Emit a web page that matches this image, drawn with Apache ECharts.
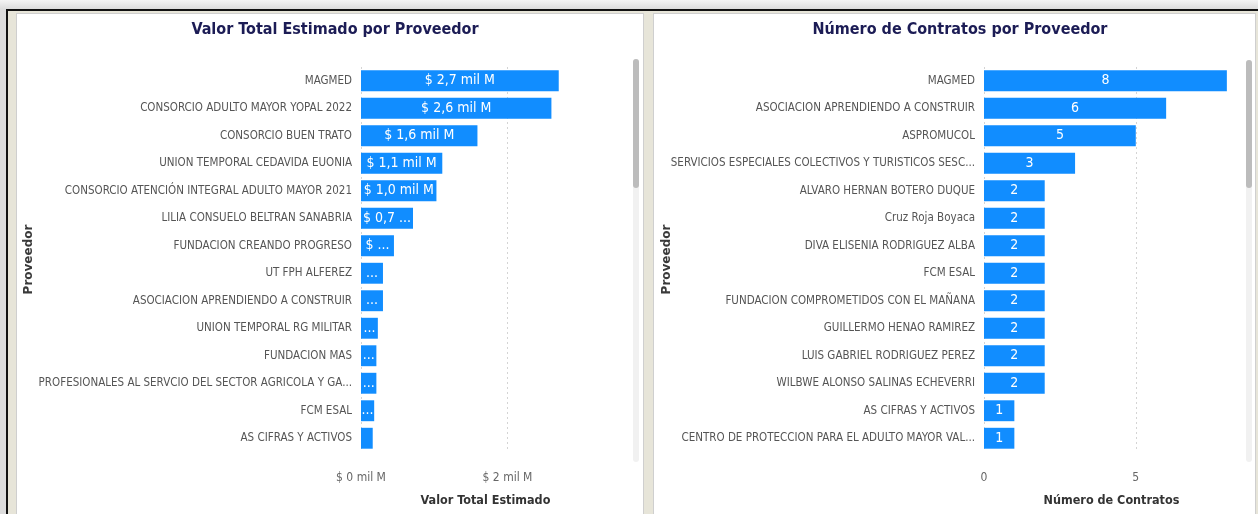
<!DOCTYPE html>
<html>
<head>
<meta charset="utf-8">
<script src="https://cdn.jsdelivr.net/npm/echarts@6/dist/echarts.min.js"></script>
<style>
  html, body { margin: 0; padding: 0; }
  body { width: 1258px; height: 514px; overflow: hidden; position: relative;
         background: linear-gradient(#f4f4f4, #dcdcdc 9px); }
  .frame { position: absolute; left: 6px; top: 9px; right: 0; bottom: 0;
           background: #e7e5d9; border-top: 2px solid #111; border-left: 2px solid #111; }
  .panel { position: absolute; background: #fff; border: 1px solid #cfcfcf; }
  .track { position: absolute; width: 6px; background: #f1f1f1; border-radius: 3px; }
  .thumb { position: absolute; width: 6px; background: #bcbcbc; border-radius: 3px; }
  #chart { position: absolute; left: 0; top: 0; width: 1258px; height: 514px; }
</style>
</head>
<body>
<div class="frame"></div>
<div class="panel" style="left:16px; top:13px; width:626px; height:510px;"></div>
<div class="panel" style="left:653px; top:13px; width:601px; height:510px;"></div>
<div class="track" style="left:633px; top:59px; height:403px;"></div>
<div class="thumb" style="left:633px; top:59px; height:129px;"></div>
<div class="track" style="left:1246px; top:60px; height:402px;"></div>
<div class="thumb" style="left:1246px; top:60px; height:128px;"></div>
<div id="chart"></div>
<script>
  // Valor Total Estimado (en mil M de pesos) por proveedor
  const proveedoresValor = [
    'MAGMED',
    'CONSORCIO ADULTO MAYOR YOPAL 2022',
    'CONSORCIO BUEN TRATO',
    'UNION TEMPORAL CEDAVIDA EUONIA',
    'CONSORCIO ATENCIÓN INTEGRAL ADULTO MAYOR 2021',
    'LILIA CONSUELO BELTRAN SANABRIA',
    'FUNDACION CREANDO PROGRESO',
    'UT FPH ALFEREZ',
    'ASOCIACION APRENDIENDO A CONSTRUIR',
    'UNION TEMPORAL RG MILITAR',
    'FUNDACION MAS',
    'PROFESIONALES AL SERVCIO DEL SECTOR AGRICOLA Y GA...',
    'FCM ESAL',
    'AS CIFRAS Y ACTIVOS'
  ];
  const valorTotal = [2.70, 2.60, 1.59, 1.11, 1.03, 0.71, 0.45, 0.30, 0.30, 0.23, 0.21, 0.21, 0.18, 0.16];

  // Número de contratos por proveedor
  const proveedoresContratos = [
    'MAGMED',
    'ASOCIACION APRENDIENDO A CONSTRUIR',
    'ASPROMUCOL',
    'SERVICIOS ESPECIALES COLECTIVOS Y TURISTICOS SESC...',
    'ALVARO HERNAN BOTERO DUQUE',
    'Cruz Roja Boyaca',
    'DIVA ELISENIA RODRIGUEZ ALBA',
    'FCM ESAL',
    'FUNDACION COMPROMETIDOS CON EL MAÑANA',
    'GUILLERMO HENAO RAMIREZ',
    'LUIS GABRIEL RODRIGUEZ PEREZ',
    'WILBWE ALONSO SALINAS ECHEVERRI',
    'AS CIFRAS Y ACTIVOS',
    'CENTRO DE PROTECCION PARA EL ADULTO MAYOR VAL...'
  ];
  const numContratos = [8, 6, 5, 3, 2, 2, 2, 2, 2, 2, 2, 2, 1, 1];

  const font = '"DejaVu Sans Condensed", "Liberation Sans", sans-serif';
  const azul = '#118DFF';

  function fmtMil(v) {
    return v.toFixed(1).replace('.', ',');
  }
  // etiqueta como la recorta Power BI cuando la barra es corta
  function valorLabel(v) {
    if (v >= 1) return '$ ' + fmtMil(v) + ' mil M';
    if (v >= 0.6) return '$ ' + fmtMil(v) + ' ...';
    if (v >= 0.4) return '$ ...';
    if (v >= 0.17) return '...';
    return '';
  }

  const myChart = echarts.init(document.getElementById('chart'));

  const catAxis = (data, gridIndex, gap) => ({
    type: 'category',
    gridIndex: gridIndex,
    data: data,
    inverse: true,
    axisLine: { show: false },
    axisTick: { show: false },
    axisLabel: { color: '#555', fontFamily: font, fontSize: 11.5, margin: 9 },
    name: 'Proveedor',
    nameLocation: 'middle',
    nameRotate: 90,
    nameGap: gap,
    nameMoveOverlap: false,
    nameTextStyle: { color: '#3a3a3a', fontFamily: 'DejaVu Sans', fontWeight: 'bold', fontSize: 12 }
  });

  const valAxis = (gridIndex, max, interval, fmt, name) => ({
    type: 'value',
    gridIndex: gridIndex,
    min: 0,
    max: max,
    interval: interval,
    axisLine: { show: false },
    axisTick: { show: false },
    axisLabel: { color: '#666', fontFamily: font, fontSize: 12, margin: 20, formatter: fmt, showMaxLabel: false },
    splitLine: { show: true, showMaxLine: false, lineStyle: { color: '#d4d4d4', type: [2, 3] } },
    name: name,
    nameLocation: 'middle',
    nameGap: 42,
    nameMoveOverlap: false,
    nameTextStyle: { color: '#333', fontFamily: font, fontSize: 12.5, fontWeight: 'bold' }
  });

  myChart.setOption({
    animation: false,
    title: [
      { text: 'Valor Total Estimado por Proveedor', left: 330, top: 17, textAlign: 'center',
        textStyle: { color: '#1c1c55', fontFamily: font, fontWeight: 'bold', fontSize: 16 } },
      { text: 'Número de Contratos por Proveedor', left: 955, top: 17, textAlign: 'center',
        textStyle: { color: '#1c1c55', fontFamily: font, fontWeight: 'bold', fontSize: 16 } }
    ],
    grid: [
      { left: 361, right: 648, top: 67, height: 385, outerBoundsMode: 'none' },
      { left: 984, right: 19, top: 67, height: 385, outerBoundsMode: 'none' }
    ],
    xAxis: [
      valAxis(0, 3.4, 2, v => '$ ' + v + ' mil M', 'Valor Total Estimado'),
      valAxis(1, 8.4, 5, v => String(v), 'Número de Contratos')
    ],
    yAxis: [
      catAxis(proveedoresValor, 0, 326),
      catAxis(proveedoresContratos, 1, 311)
    ],
    series: [
      {
        type: 'bar',
        xAxisIndex: 0,
        yAxisIndex: 0,
        data: valorTotal,
        barCategoryGap: '24%',
        itemStyle: { color: azul },
        label: { show: true, position: 'inside', color: '#fff', fontFamily: font, fontSize: 14,
                 formatter: p => valorLabel(p.value) }
      },
      {
        type: 'bar',
        xAxisIndex: 1,
        yAxisIndex: 1,
        data: numContratos,
        barCategoryGap: '24%',
        itemStyle: { color: azul },
        label: { show: true, position: 'inside', color: '#fff', fontFamily: font, fontSize: 14 }
      }
    ]
  });
</script>
</body>
</html>
